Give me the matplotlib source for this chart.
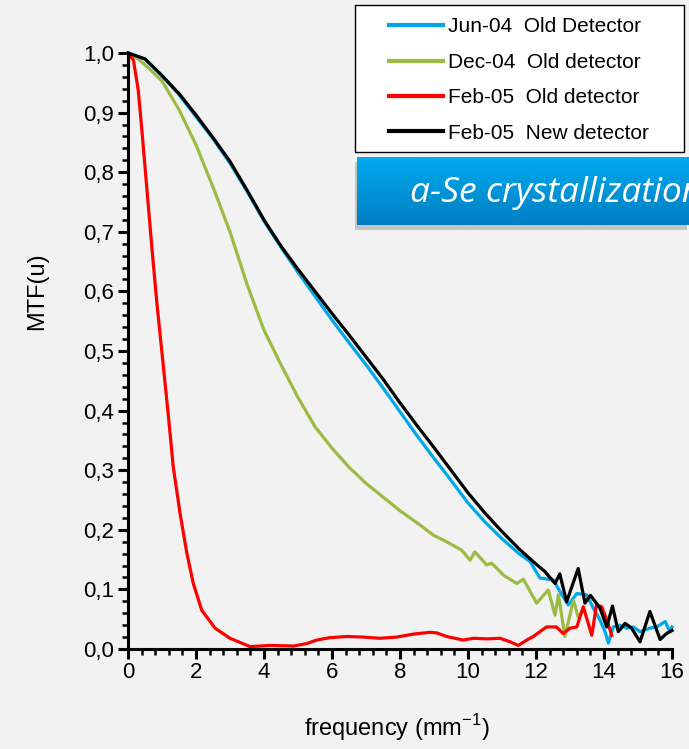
import numpy as np
import matplotlib.pyplot as plt
from matplotlib.lines import Line2D
from matplotlib.patches import Rectangle
from matplotlib.ticker import MultipleLocator, FuncFormatter

# ---- data ----
freq_jun04 = [0, 0.5, 1, 1.5, 2, 2.5, 3, 3.5, 4, 4.5, 5, 5.5, 6, 6.5, 7, 7.5, 8, 8.5, 9, 9.5, 10,
              10.5, 11, 11.5, 11.82, 12.12, 12.51, 12.76, 12.95, 13.2, 13.49, 13.69, 13.88, 14.03,
              14.13, 14.27, 14.47, 14.67, 14.86, 15.06, 15.35, 15.55, 15.8, 15.94, 16.0]
mtf_jun04 = [1.0, 0.99, 0.962, 0.93, 0.893, 0.856, 0.815, 0.768, 0.718, 0.674, 0.632, 0.592, 0.552,
             0.514, 0.477, 0.438, 0.398, 0.358, 0.320, 0.283, 0.245, 0.213, 0.185, 0.160, 0.147,
             0.119, 0.116, 0.091, 0.074, 0.093, 0.091, 0.068, 0.049, 0.029, 0.010, 0.037, 0.040,
             0.035, 0.037, 0.029, 0.035, 0.037, 0.046, 0.029, 0.037]

freq_dec04 = [0, 0.3, 0.6, 1, 1.5, 2, 2.5, 3, 3.5, 4, 4.5, 5, 5.5, 6, 6.5, 7, 7.5, 8, 8.59, 8.98,
              9.37, 9.81, 10.06, 10.2, 10.55, 10.69, 10.89, 11.04, 11.43, 11.63, 12.02, 12.36,
              12.56, 12.66, 12.85, 13.1, 13.24, 13.4]
mtf_dec04 = [1.0, 0.99, 0.975, 0.953, 0.905, 0.846, 0.775, 0.700, 0.612, 0.535, 0.477, 0.422,
             0.373, 0.337, 0.305, 0.278, 0.255, 0.232, 0.208, 0.191, 0.180, 0.166, 0.149, 0.163,
             0.141, 0.144, 0.133, 0.124, 0.110, 0.117, 0.077, 0.099, 0.057, 0.091, 0.021, 0.082,
             0.054, 0.065]

freq_feb05_old = [0, 0.16, 0.3, 0.4, 0.5, 0.6, 0.7, 0.84, 1.04, 1.19, 1.33, 1.53, 1.73, 1.92, 2.17,
                  2.56, 3.0, 3.59, 4.18, 4.87, 5.25, 5.55, 5.94, 6.43, 6.92, 7.41, 7.9, 8.39, 8.88,
                  9.08, 9.37, 9.86, 10.16, 10.55, 10.94, 11.24, 11.48, 11.73, 11.92, 12.31, 12.6,
                  12.8, 13.0, 13.2, 13.39, 13.64, 13.78, 13.93, 14.08, 14.23]
mtf_feb05_old = [1.0, 0.988, 0.938, 0.876, 0.809, 0.742, 0.675, 0.586, 0.474, 0.39, 0.306, 0.228,
                 0.161, 0.110, 0.065, 0.035, 0.018, 0.004, 0.006, 0.005, 0.009, 0.015, 0.019, 0.021,
                 0.020, 0.018, 0.020, 0.025, 0.028, 0.027, 0.021, 0.015, 0.018, 0.017, 0.018, 0.012,
                 0.006, 0.015, 0.021, 0.037, 0.037, 0.026, 0.035, 0.037, 0.071, 0.023, 0.074, 0.071,
                 0.049, 0.023]

freq_feb05_new = [0, 0.5, 1, 1.5, 2, 2.5, 3, 3.5, 4, 4.5, 5, 5.5, 6, 6.5, 7, 7.5, 8, 8.5, 9, 9.5,
                  10, 10.5, 11.0, 11.5, 11.97, 12.26, 12.56, 12.7, 12.9, 13.24, 13.44,
                  13.6, 13.88, 14.08, 14.25, 14.42, 14.62, 14.81, 15.06, 15.35, 15.65, 15.84, 16.0]
mtf_feb05_new = [1.0, 0.99, 0.962, 0.932, 0.896, 0.858, 0.818, 0.770, 0.720, 0.676, 0.637, 0.600,
                 0.563, 0.527, 0.490, 0.453, 0.413, 0.375, 0.338, 0.300, 0.262, 0.228, 0.197,
                 0.168, 0.144, 0.130, 0.110, 0.126, 0.079, 0.135, 0.077, 0.090, 0.069,
                 0.037, 0.072, 0.029, 0.043, 0.035, 0.012, 0.063, 0.016, 0.026, 0.031]

labels = ["Jun-04  Old Detector", "Dec-04  Old detector",
          "Feb-05  Old detector", "Feb-05  New detector"]
colors = ["#00A8E8", "#9BBB45", "#FF0000", "#000000"]

plt.rcParams["font.family"] = ["Liberation Sans", "DejaVu Sans"]

W, H = 689, 749
bg = "#F2F2F2"
fig = plt.figure(figsize=(W / 100, H / 100), dpi=100, facecolor=bg)

# axes box in pixels: x 128..672, y 53..649
ax = fig.add_axes([128 / W, 1 - 649 / H, (672 - 128) / W, (649 - 53) / H])
ax.set_facecolor(bg)

series = [(freq_jun04, mtf_jun04), (freq_dec04, mtf_dec04),
          (freq_feb05_old, mtf_feb05_old), (freq_feb05_new, mtf_feb05_new)]
for (fx, fy), c in zip(series, colors):
    ax.plot(fx, fy, color=c, lw=2.3, clip_on=False)

ax.set_xlim(0, 16)
ax.set_ylim(0, 1.0)
for s in ("top", "right"):
    ax.spines[s].set_visible(False)
for s in ("left", "bottom"):
    ax.spines[s].set_linewidth(2.2)

ax.xaxis.set_major_locator(MultipleLocator(2))
ax.xaxis.set_minor_locator(MultipleLocator(0.4))
ax.yaxis.set_major_locator(MultipleLocator(0.1))
ax.yaxis.set_minor_locator(MultipleLocator(0.02))
ax.yaxis.set_major_formatter(FuncFormatter(lambda v, p: f"{v:.1f}".replace(".", ",")))
ax.tick_params(which="major", direction="out", length=7, width=2.2, labelsize=16)
ax.tick_params(which="minor", direction="out", length=4.5, width=1.8)
ax.tick_params(axis="x", which="major", pad=2)
ax.tick_params(axis="y", which="major", pad=3)

ax.set_xlabel("frequency (mm$^{\\mathregular{-1}}$)", fontsize=17)
ax.set_ylabel("MTF(u)", fontsize=17)
ax.xaxis.set_label_coords(0.494, -0.131)
ax.yaxis.set_label_coords(-0.167, 0.60)
ax.xaxis.label.set_va("center")
ax.yaxis.label.set_va("center")

# legend box
fig.patches.append(Rectangle((355 / W, 1 - 152 / H), (684 - 355) / W, 147 / H,
                             transform=fig.transFigure, facecolor="white",
                             edgecolor="black", lw=1, zorder=5))
handles = [Line2D([], [], color=c, lw=3) for c in colors]
leg = fig.legend(handles, labels, loc="upper left",
                 bbox_to_anchor=(379 / W, 1 - 7 / H), frameon=False,
                 fontsize=15, handlelength=2.55, handletextpad=0.24,
                 labelspacing=0.79, borderpad=0.0)
leg.set_zorder(6)

# blue gradient label box with shadow
bx0, by0, by1 = 357, 157, 225
fig.patches.append(Rectangle(((bx0 - 2) / W, 1 - (by1 + 5) / H), (W - bx0) / W, (by1 - by0) / H,
                             transform=fig.transFigure, facecolor="#9a9a9a",
                             edgecolor="none", alpha=0.5, zorder=4))
bax = fig.add_axes([bx0 / W, 1 - by1 / H, (W - bx0 + 20) / W, (by1 - by0) / H], zorder=7)
top = np.array([0x00, 0xAA, 0xEE]) / 255
bot = np.array([0x00, 0x7E, 0xC2]) / 255
t = np.linspace(0, 1, 64)[:, None]
grad = (top[None, :] * (1 - t) + bot[None, :] * t)[:, None, :]
bax.imshow(grad, aspect="auto", extent=(0, 1, 0, 1), origin="upper")
bax.set_xlim(0, 1)
bax.set_ylim(0, 1)
bax.axis("off")
fig.text(410 / W, 1 - 193 / H, "a-Se crystallization", color="white",
         fontsize=25.5, style="italic", family=["Open Sans", "DejaVu Sans"],
         va="center", ha="left", zorder=8)

fig.savefig("out.png", dpi=100, facecolor=bg)
